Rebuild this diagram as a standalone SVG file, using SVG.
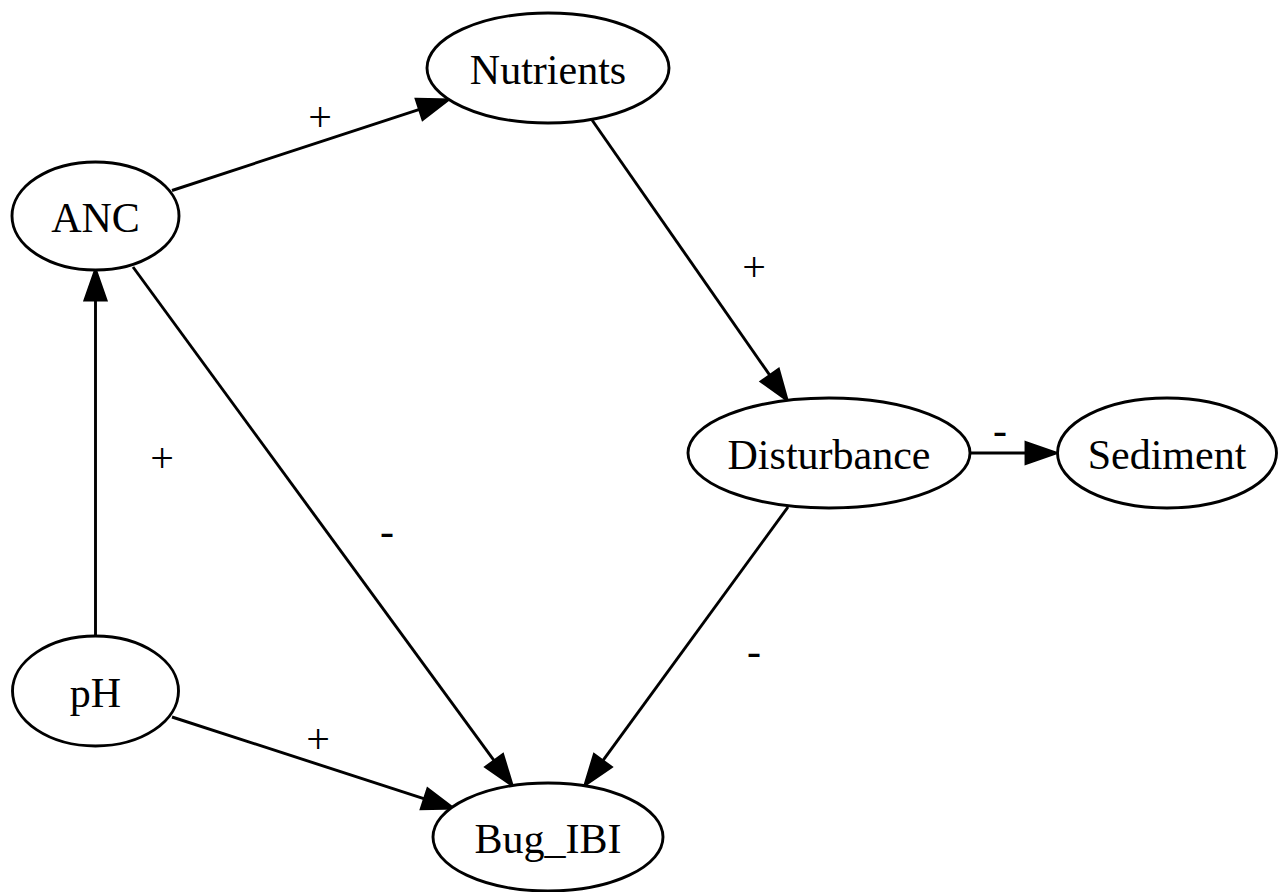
<svg xmlns="http://www.w3.org/2000/svg" width="1278" height="892" viewBox="0 0 1278 892">
  <style>
    .node ellipse { fill: #ffffff; stroke: #000000; stroke-width: 2.9; }
    .node text, .lbl { font-family: "Liberation Serif", "Times New Roman", serif; font-size: 42px; fill: #000000; text-anchor: middle; }
    .edge { stroke: #000000; stroke-width: 2.9; fill: none; marker-end: url(#arrow); }
  </style>
  <defs>
    <marker id="arrow" markerUnits="userSpaceOnUse" markerWidth="40" markerHeight="30" refX="0" refY="15" orient="auto" overflow="visible">
      <path d="M0,4.5 L30,15 L0,25.5 Z" fill="#000000" stroke="#000000" stroke-width="2.9" stroke-linejoin="miter"/>
    </marker>
  </defs>
  <rect width="1278" height="892" fill="#ffffff"/>

  <!-- connectors: lines end at the arrow base, the marker draws the head -->
  <g id="edges">
    <line class="edge" x1="172" y1="190.5" x2="419.5" y2="109.3"/>
    <line class="edge" x1="592" y1="120" x2="769.9" y2="375.4"/>
    <line class="edge" x1="970" y1="453" x2="1026" y2="453"/>
    <line class="edge" x1="788" y1="507" x2="602.7" y2="760.8"/>
    <line class="edge" x1="133" y1="267" x2="494.3" y2="760.8"/>
    <line class="edge" x1="95.5" y1="636" x2="95.5" y2="300"/>
    <line class="edge" x1="172" y1="717" x2="424.5" y2="798.8"/>
  </g>

  <!-- edge labels -->
  <g id="edge-labels">
    <text class="lbl" x="320" y="131">+</text>
    <text class="lbl" x="754" y="281">+</text>
    <text class="lbl" x="1000" y="444">-</text>
    <text class="lbl" x="754" y="665">-</text>
    <text class="lbl" x="387" y="545">-</text>
    <text class="lbl" x="162" y="472">+</text>
    <text class="lbl" x="318" y="753">+</text>
  </g>

  <g id="node-Nutrients" class="node">
    <ellipse cx="548" cy="68" rx="121" ry="55"/>
    <text x="548" y="84">Nutrients</text>
  </g>
  <g id="node-ANC" class="node">
    <ellipse cx="95.5" cy="216" rx="83.5" ry="54"/>
    <text x="95.5" y="232">ANC</text>
  </g>
  <g id="node-Disturbance" class="node">
    <ellipse cx="829" cy="453" rx="141" ry="55"/>
    <text x="829" y="469">Disturbance</text>
  </g>
  <g id="node-Sediment" class="node">
    <ellipse cx="1167" cy="453" rx="109.5" ry="55"/>
    <text x="1167" y="469">Sediment</text>
  </g>
  <g id="node-pH" class="node">
    <ellipse cx="95.5" cy="691" rx="83" ry="55"/>
    <text x="95.5" y="707">pH</text>
  </g>
  <g id="node-Bug_IBI" class="node">
    <ellipse cx="548" cy="837" rx="115" ry="54"/>
    <text x="548" y="853">Bug_IBI</text>
  </g>
</svg>
